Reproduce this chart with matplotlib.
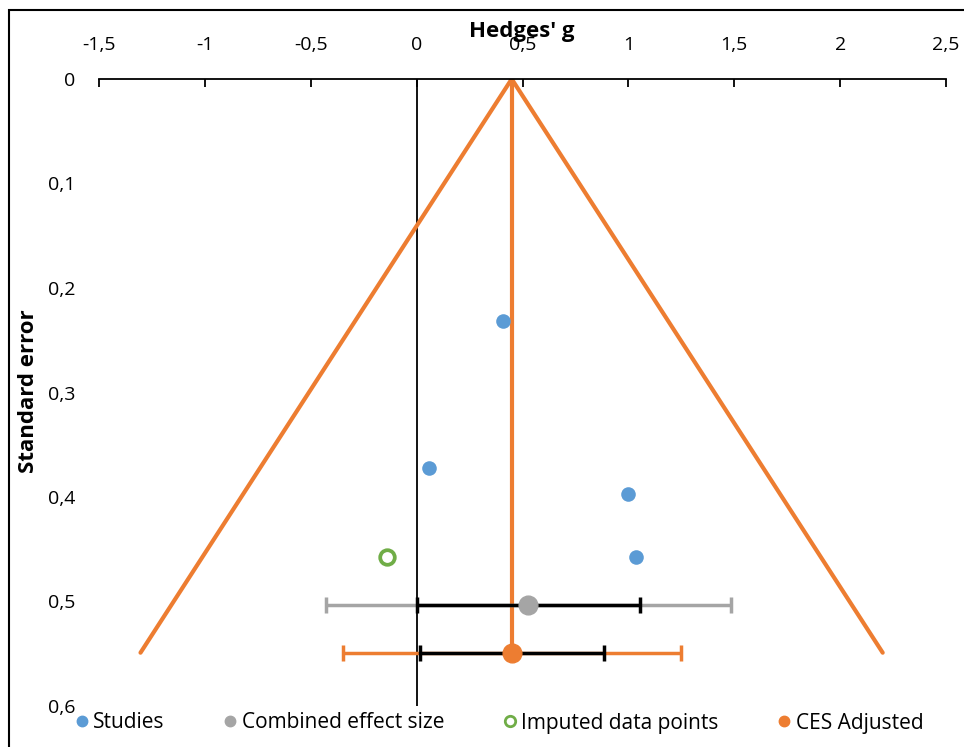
"""Funnel plot: Hedges' g vs standard error, with trim-and-fill adjustment."""

import matplotlib
matplotlib.use("Agg")
import matplotlib.pyplot as plt
from matplotlib.lines import Line2D
from matplotlib.patches import Rectangle
from matplotlib.ticker import FuncFormatter

plt.rcParams["font.family"] = ["Open Sans", "DejaVu Sans"]

BLUE = "#5B9BD5"
GREY = "#A5A5A5"
GREEN = "#70AD47"
ORANGE = "#ED7D31"

# observed studies
study_g = [0.406, 0.057, 1.000, 1.035]
study_se = [0.232, 0.372, 0.397, 0.457]

# trim-and-fill imputed study
imputed_g = [-0.142]
imputed_se = [0.457]

# combined effect size (CI and prediction interval)
ces_g = 0.524
ces_se = 0.503
ces_ci = (0.0, 1.053)
ces_pi = (-0.43, 1.483)

# adjusted combined effect size
adj_g = 0.449
adj_se = 0.549
adj_ci = (0.014, 0.883)
adj_pi = (-0.35, 1.247)

# funnel outline: apex and bottom corners
funnel_g = [-1.304, 0.449, 2.201]
funnel_se = [0.549, 0.0, 0.549]

x_ticks = [-1.5, -1, -0.5, 0, 0.5, 1, 1.5, 2, 2.5]
y_ticks = [0, 0.1, 0.2, 0.3, 0.4, 0.5, 0.6]


def comma(v, _pos=None):
    s = f"{v:g}"
    return s.replace(".", ",")


fig = plt.figure(figsize=(9.64, 7.47), dpi=100)
W, H = 964, 747
ax = fig.add_axes([99 / W, 1 - 706 / H, (946 - 99) / W, (706 - 79) / H])

# chart border (only left and top visible in the crop)
fig.patches.append(Rectangle((9 / W, -0.1), 1.2, 1 - 10 / H + 0.1,
                             transform=fig.transFigure, fill=False,
                             edgecolor="black", linewidth=1.5))

ax.set_xlim(-1.5, 2.5)
ax.set_ylim(0.6, 0)

# zero line (value axis crosses at 0)
ax.axvline(0, color="black", linewidth=1.3, zorder=1)

# funnel
ax.plot(funnel_g, funnel_se, color=ORANGE, linewidth=3, zorder=2,
        solid_capstyle="round", solid_joinstyle="miter")
ax.plot([adj_g, adj_g], [0, adj_se], color=ORANGE, linewidth=3, zorder=2)


# intervals
def interval(lo, hi, y, color, cap=6):
    ax.errorbar([(lo + hi) / 2], [y], xerr=[[(hi - lo) / 2], [(hi - lo) / 2]],
                fmt="none", ecolor=color, elinewidth=2.5, capsize=cap,
                capthick=2.5, zorder=3)


interval(*ces_pi, ces_se, GREY)
interval(*ces_ci, ces_se, "black")
interval(*adj_pi, adj_se, ORANGE)
interval(*adj_ci, adj_se, "black")

ax.plot(study_g, study_se, "o", color=BLUE, markersize=10.5,
        markeredgewidth=0, zorder=4)
ax.plot(imputed_g, imputed_se, "o", markerfacecolor="white",
        markeredgecolor=GREEN, markersize=10.5, markeredgewidth=2.7, zorder=4)
ax.plot([ces_g], [ces_se], "o", color=GREY, markersize=13.5, zorder=4)
ax.plot([adj_g], [adj_se], "o", color=ORANGE, markersize=13.5, zorder=5)

# axes styling
for side in ("left", "right", "bottom"):
    ax.spines[side].set_visible(False)
ax.spines["top"].set_linewidth(1.3)
ax.xaxis.set_ticks_position("top")
ax.set_xticks(x_ticks)
ax.set_yticks(y_ticks)
ax.xaxis.set_major_formatter(FuncFormatter(comma))
ax.yaxis.set_major_formatter(FuncFormatter(comma))
ax.tick_params(axis="x", direction="in", length=6, width=1.3, pad=18,
               labelsize=14)
ax.tick_params(axis="y", length=0, pad=17, labelsize=14)

fig.text(522 / W, 1 - 32 / H, "Hedges' g", fontsize=16, fontweight="bold",
         ha="center", va="center")
fig.text(29 / W, 1 - 391 / H, "Standard error", fontsize=16,
         fontweight="bold", rotation=90, ha="center", va="center")

handles = [
    Line2D([], [], marker="o", linestyle="none", color=BLUE, markersize=7.5),
    Line2D([], [], marker="o", linestyle="none", color=GREY, markersize=7.5),
    Line2D([], [], marker="o", linestyle="none", markerfacecolor="white",
           markeredgecolor=GREEN, markeredgewidth=2, markersize=7.5),
    Line2D([], [], marker="o", linestyle="none", color=ORANGE, markersize=7.5),
]
labels = ["Studies", "Combined effect size", "Imputed data points", "CES Adjusted"]
fig.legend(handles, labels, loc="center", bbox_to_anchor=(0.516, 1 - 723 / H),
           ncol=4, frameon=False, fontsize=15, handletextpad=0.05,
           columnspacing=2.65, handlelength=1.0)

fig.savefig("out.png", dpi=100)
